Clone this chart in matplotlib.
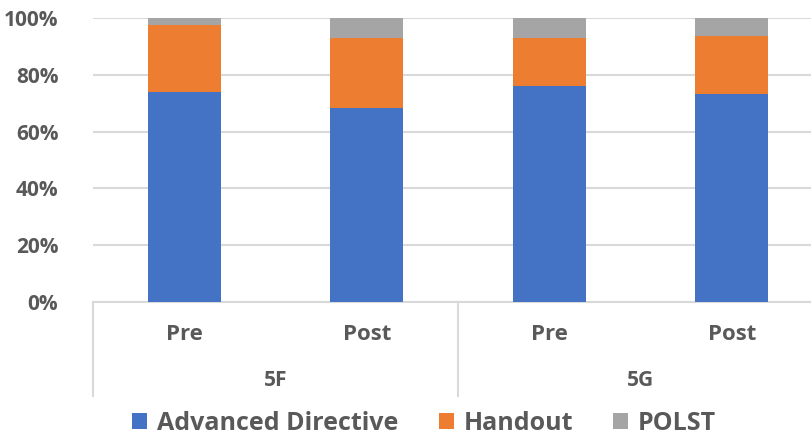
import matplotlib.pyplot as plt
import numpy as np

# share of each material, by unit and survey round
groups = ['5F', '5G']
rounds = ['Pre', 'Post']
advanced_directive = [74.0, 68.3, 76.2, 73.2]
handout = [23.5, 24.7, 16.8, 20.6]
polst = [2.5, 7.0, 7.0, 6.2]
y_ticks = [0, 20, 40, 60, 80, 100]

plt.rcParams['font.family'] = ['Open Sans', 'DejaVu Sans']
plt.rcParams['font.weight'] = 'bold'
text_color = '#595959'
grid_color = '#d9d9d9'

fig = plt.figure(figsize=(8.11, 4.38), dpi=100)
ax = fig.add_axes([93 / 811, 136 / 438, 730 / 811, 284 / 438])

x = np.arange(len(advanced_directive))
ad = np.array(advanced_directive)
ho = np.array(handout)
po = np.array(polst)

ax.bar(x, ad, width=0.4, color='#4472C4', label='Advanced Directive', zorder=3)
ax.bar(x, ho, width=0.4, bottom=ad, color='#ED7D31', label='Handout', zorder=3)
ax.bar(x, po, width=0.4, bottom=ad + ho, color='#A5A5A5', label='POLST', zorder=3)

ax.set_xlim(-0.5, len(x) - 0.5)
ax.set_ylim(0, 100)
ax.set_yticks(y_ticks)
ax.set_yticklabels([f'{t}%' for t in y_ticks], fontsize=15, color=text_color, fontweight='bold')
ax.tick_params(axis='y', length=0, pad=25)
ax.tick_params(axis='x', length=0, labelbottom=False)
ax.yaxis.grid(True, color=grid_color, linewidth=1.5, zorder=0)
for s in ['top', 'right', 'left']:
    ax.spines[s].set_visible(False)
ax.spines['bottom'].set_color(grid_color)
ax.spines['bottom'].set_linewidth(1.5)

# two-level category axis: rounds on top, units below, split by separators
trans = ax.get_xaxis_transform()
for i in x:
    ax.text(i, -0.113, rounds[i % 2], transform=trans, ha='center', va='center',
            fontsize=16, color=text_color, fontweight='bold')
for g, name in enumerate(groups):
    ax.text(2 * g + 0.5, -0.275, name, transform=trans, ha='center', va='center',
            fontsize=15, color=text_color, fontweight='bold')
for sep in [-0.5, 1.5, 3.5]:
    ax.plot([sep, sep], [0, -0.331], transform=trans, color=grid_color,
            linewidth=1.5, clip_on=False)

leg = fig.legend(loc='center', bbox_to_anchor=(0.523, 1 - 423 / 438), ncol=3,
                 frameon=False, fontsize=18, handlelength=0.6, handleheight=0.6,
                 handletextpad=0.4, columnspacing=1.6)
for t in leg.get_texts():
    t.set_color(text_color)
    t.set_fontweight('bold')

fig.savefig('out.png', dpi=100)
